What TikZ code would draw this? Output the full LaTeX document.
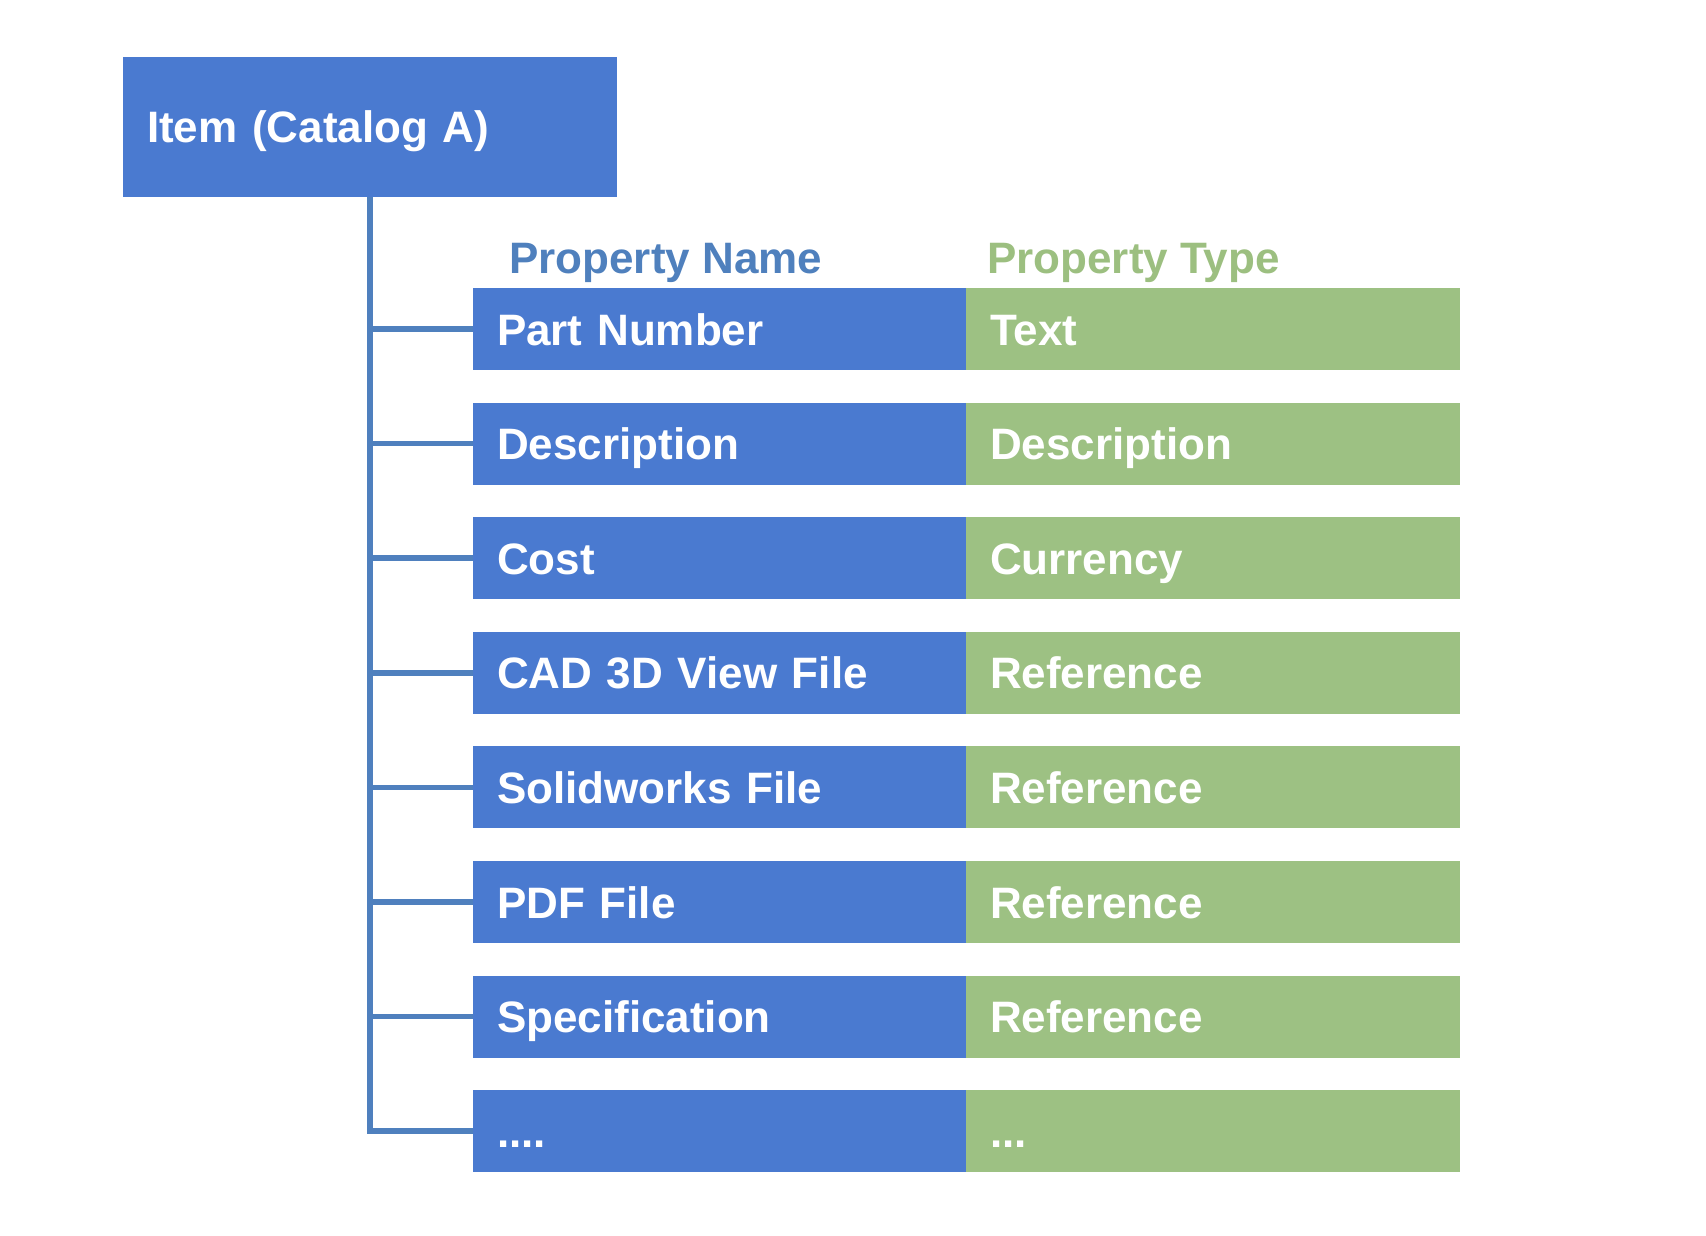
\documentclass[tikz,border=0pt]{standalone}
\usepackage{fontspec}
\setmainfont{Liberation Sans}
\usepackage{tikz}
\usepackage{xcolor}

\definecolor{cellblue}{HTML}{4A7AD0}
\definecolor{cellgreen}{HTML}{9DC183}
\definecolor{linkblue}{HTML}{4F80BE}
\definecolor{headblue}{HTML}{4F80BD}
\definecolor{headgreen}{HTML}{9CBF80}

\begin{document}
\begin{tikzpicture}[x=1pt, y=-1pt]

\tikzstyle{every node} = [font=\fontsize{44}{50}\selectfont\bfseries, inner sep=0pt]
\tikzstyle{cell} = [rectangle, minimum height=82pt, text=white, text height=32pt, text depth=0pt, align=left]
\tikzstyle{pname} = [cell, fill=cellblue, minimum width=493pt, text width=445pt]
\tikzstyle{ptype} = [cell, fill=cellgreen, minimum width=494pt, text width=446pt]
\tikzstyle{link} = [draw=linkblue, line width=5.5pt]

\useasboundingbox (0,0) rectangle (1706,1236);

\node[rectangle, fill=cellblue, minimum width=494pt, minimum height=140pt, text width=446pt,
      text=white, text height=32pt, text depth=0pt, align=left] (i) at (370,127) {Item (Catalog A)};

\node[anchor=base west, text=headblue] (hn) at (509,273) {Property Name};
\node[anchor=base west, text=headgreen] (ht) at (987,273) {Property Type};

\node[pname] (n1) at (719.5,329) {Part Number};
\node[ptype] (t1) at (1213,329) {Text};

\node[pname] (n2) at (719.5,443.6) {Description};
\node[ptype] (t2) at (1213,443.6) {Description};

\node[pname] (n3) at (719.5,558.2) {Cost};
\node[ptype] (t3) at (1213,558.2) {Currency};

\node[pname] (n4) at (719.5,672.8) {CAD 3D View File};
\node[ptype] (t4) at (1213,672.8) {Reference};

\node[pname] (n5) at (719.5,787.4) {Solidworks File};
\node[ptype] (t5) at (1213,787.4) {Reference};

\node[pname] (n6) at (719.5,902) {PDF File};
\node[ptype] (t6) at (1213,902) {Reference};

\node[pname] (n7) at (719.5,1016.6) {Specification};
\node[ptype] (t7) at (1213,1016.6) {Reference};

\node[pname] (n8) at (719.5,1131.2) {....};
\node[ptype] (t8) at (1213,1131.2) {...};


\draw[link] (i.south) |- (n8.west);
\draw[link] (i.south |- n1.west) -- (n1.west);
\draw[link] (i.south |- n2.west) -- (n2.west);
\draw[link] (i.south |- n3.west) -- (n3.west);
\draw[link] (i.south |- n4.west) -- (n4.west);
\draw[link] (i.south |- n5.west) -- (n5.west);
\draw[link] (i.south |- n6.west) -- (n6.west);
\draw[link] (i.south |- n7.west) -- (n7.west);

\end{tikzpicture}
\end{document}
